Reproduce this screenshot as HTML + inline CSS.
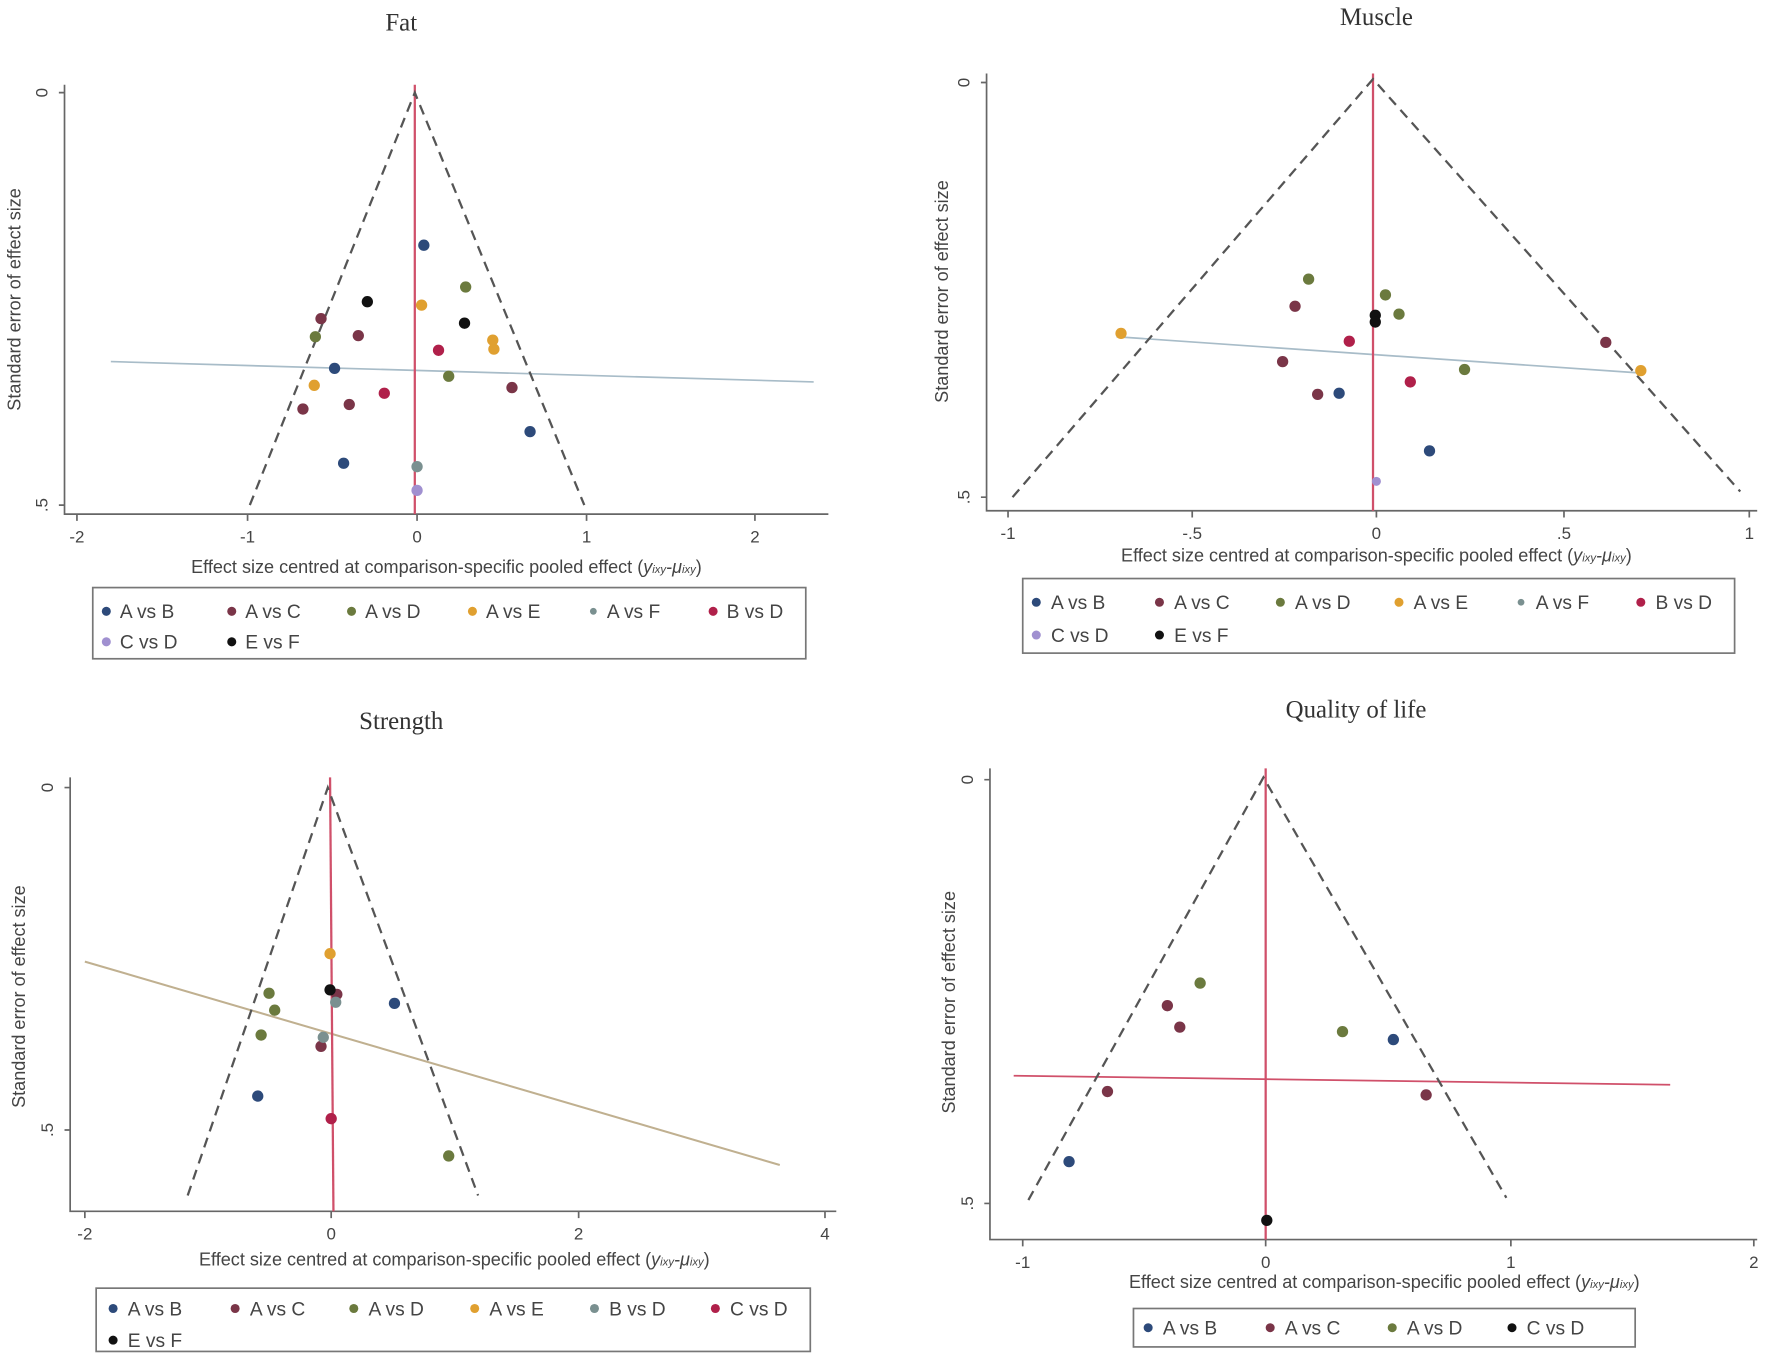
<!DOCTYPE html>
<html><head><meta charset="utf-8"><style>
html,body{margin:0;padding:0;background:#fff;}
svg{display:block;}
.t{font-family:"Liberation Serif",serif;font-size:22px;fill:#333;text-anchor:middle;}
.k{font-family:"Liberation Sans",sans-serif;font-size:15px;fill:#444;}
.l{font-family:"Liberation Sans",sans-serif;font-size:16px;fill:#444;}
.g{font-family:"Liberation Sans",sans-serif;font-size:17px;fill:#444;}
.ax{stroke:#666;stroke-width:1.5;fill:none;}
.fn{stroke:#555;stroke-width:2;stroke-dasharray:9,6;fill:none;}
.pk{stroke:#d0506a;stroke-width:2;}
.box{fill:none;stroke:#777;stroke-width:1.5;}
.AB{fill:#2d4a7a}.AC{fill:#7a3548}.AD{fill:#6b7a3e}.AE{fill:#e0a030}.AF{fill:#7a9090}.BD{fill:#b0204a}.CD{fill:#a090d0}.EF{fill:#111}.BDs{fill:#7a9090}.CDs{fill:#b0204a}
</style></head><body>
<svg width="1772" height="1365" viewBox="0 0 1568 1208" xmlns="http://www.w3.org/2000/svg">
<!-- FAT -->
<text class="t" x="355" y="27">Fat</text>
<path class="ax" d="M57,75 V455 H733"/>
<path class="ax" d="M52,82 H57 M52,447 H57 M68,455 V461 M219,455 V461 M369,455 V461 M519,455 V461 M668,455 V461"/>
<text class="k" transform="translate(42,82) rotate(-90)" text-anchor="middle">0</text>
<text class="k" transform="translate(42,447) rotate(-90)" text-anchor="middle">.5</text>
<text class="k" x="68" y="480" text-anchor="middle">-2</text><text class="k" x="219" y="480" text-anchor="middle">-1</text><text class="k" x="369" y="480" text-anchor="middle">0</text><text class="k" x="519" y="480" text-anchor="middle">1</text><text class="k" x="668" y="480" text-anchor="middle">2</text>
<text class="l" x="395" y="507" text-anchor="middle">Effect size centred at comparison-specific pooled effect (<tspan font-style="italic">y<tspan font-size="10">ixy</tspan>-μ<tspan font-size="10">ixy</tspan></tspan>)</text>
<text class="l" transform="translate(18,265) rotate(-90)" text-anchor="middle">Standard error of effect size</text>
<line x1="98" y1="320" x2="720" y2="338" stroke="#a8bcc8" stroke-width="1.5"/>
<line class="pk" x1="367" y1="75" x2="367" y2="455"/>
<path class="fn" d="M221,447 L367,82 L517,447"/>
<g>
<circle class="AB" cx="375" cy="217" r="5"/><circle class="AB" cx="296" cy="326" r="5"/><circle class="AB" cx="469" cy="382" r="5"/><circle class="AB" cx="304" cy="410" r="5"/>
<circle class="AC" cx="284" cy="282" r="5"/><circle class="AC" cx="317" cy="297" r="5"/><circle class="AC" cx="309" cy="358" r="5"/><circle class="AC" cx="268" cy="362" r="5"/><circle class="AC" cx="453" cy="343" r="5"/>
<circle class="AD" cx="412" cy="254" r="5"/><circle class="AD" cx="279" cy="298" r="5"/><circle class="AD" cx="397" cy="333" r="5"/>
<circle class="AE" cx="373" cy="270" r="5"/><circle class="AE" cx="436" cy="301" r="5"/><circle class="AE" cx="437" cy="309" r="5"/><circle class="AE" cx="278" cy="341" r="5"/>
<circle class="AF" cx="369" cy="413" r="5"/>
<circle class="BD" cx="388" cy="310" r="5"/><circle class="BD" cx="340" cy="348" r="5"/>
<circle class="CD" cx="369" cy="434" r="5"/>
<circle class="EF" cx="325" cy="267" r="5"/><circle class="EF" cx="411" cy="286" r="5"/>
</g>
<rect class="box" x="82" y="520" width="631" height="63"/>
<circle class="AB" cx="94" cy="541" r="4"/><text class="g" x="106" y="547">A vs B</text>
<circle class="AC" cx="205" cy="541" r="4"/><text class="g" x="217" y="547">A vs C</text>
<circle class="AD" cx="311" cy="541" r="4"/><text class="g" x="323" y="547">A vs D</text>
<circle class="AE" cx="418" cy="541" r="4"/><text class="g" x="430" y="547">A vs E</text>
<circle class="AF" cx="525" cy="541" r="3"/><text class="g" x="537" y="547">A vs F</text>
<circle class="BD" cx="631" cy="541" r="4"/><text class="g" x="643" y="547">B vs D</text>
<circle class="CD" cx="94" cy="568" r="4"/><text class="g" x="106" y="574">C vs D</text>
<circle class="EF" cx="205" cy="568" r="4"/><text class="g" x="217" y="574">E vs F</text>

<!-- MUSCLE -->
<text class="t" x="1218" y="22">Muscle</text>
<path class="ax" d="M873,65 V452 H1555"/>
<path class="ax" d="M868,73 H873 M868,440 H873 M892,452 V458 M1055,452 V458 M1218,452 V458 M1384,452 V458 M1548,452 V458"/>
<text class="k" transform="translate(858,73) rotate(-90)" text-anchor="middle">0</text>
<text class="k" transform="translate(858,440) rotate(-90)" text-anchor="middle">.5</text>
<text class="k" x="892" y="477" text-anchor="middle">-1</text><text class="k" x="1055" y="477" text-anchor="middle">-.5</text><text class="k" x="1218" y="477" text-anchor="middle">0</text><text class="k" x="1384" y="477" text-anchor="middle">.5</text><text class="k" x="1548" y="477" text-anchor="middle">1</text>
<text class="l" x="1218" y="497" text-anchor="middle">Effect size centred at comparison-specific pooled effect (<tspan font-style="italic">y<tspan font-size="10">ixy</tspan>-μ<tspan font-size="10">ixy</tspan></tspan>)</text>
<text class="l" transform="translate(839,258) rotate(-90)" text-anchor="middle">Standard error of effect size</text>
<line x1="988" y1="298" x2="1450" y2="330" stroke="#a8bcc8" stroke-width="1.5"/>
<line class="pk" x1="1215" y1="65" x2="1215" y2="452"/>
<path class="fn" d="M896,440 L1215,70 L1540,435"/>
<circle class="AB" cx="1185" cy="348" r="5"/><circle class="AB" cx="1265" cy="399" r="5"/>
<circle class="AC" cx="1146" cy="271" r="5"/><circle class="AC" cx="1135" cy="320" r="5"/><circle class="AC" cx="1166" cy="349" r="5"/><circle class="AC" cx="1421" cy="303" r="5"/>
<circle class="AD" cx="1158" cy="247" r="5"/><circle class="AD" cx="1226" cy="261" r="5"/><circle class="AD" cx="1238" cy="278" r="5"/><circle class="AD" cx="1296" cy="327" r="5"/>
<circle class="AE" cx="992" cy="295" r="5"/><circle class="AE" cx="1452" cy="328" r="5"/>
<circle class="BD" cx="1194" cy="302" r="5"/><circle class="BD" cx="1248" cy="338" r="5"/>
<circle class="CD" cx="1218" cy="426" r="4"/>
<circle class="EF" cx="1217" cy="279" r="5"/><circle class="EF" cx="1217" cy="285" r="5"/>
<rect class="box" x="905" y="512" width="630" height="66"/>
<circle class="AB" cx="917" cy="533" r="4"/><text class="g" x="930" y="539">A vs B</text>
<circle class="AC" cx="1026" cy="533" r="4"/><text class="g" x="1039" y="539">A vs C</text>
<circle class="AD" cx="1133" cy="533" r="4"/><text class="g" x="1146" y="539">A vs D</text>
<circle class="AE" cx="1238" cy="533" r="4"/><text class="g" x="1251" y="539">A vs E</text>
<circle class="AF" cx="1346" cy="533" r="3"/><text class="g" x="1359" y="539">A vs F</text>
<circle class="BD" cx="1452" cy="533" r="4"/><text class="g" x="1465" y="539">B vs D</text>
<circle class="CD" cx="917" cy="562" r="4"/><text class="g" x="930" y="568">C vs D</text>
<circle class="EF" cx="1026" cy="562" r="4"/><text class="g" x="1039" y="568">E vs F</text>

<!-- STRENGTH -->
<text class="t" x="355" y="645">Strength</text>
<path class="ax" d="M62,688 V1072 H740"/>
<path class="ax" d="M57,697 H62 M57,1000 H62 M75,1072 V1078 M293,1072 V1078 M512,1072 V1078 M730,1072 V1078"/>
<text class="k" transform="translate(47,697) rotate(-90)" text-anchor="middle">0</text>
<text class="k" transform="translate(47,1000) rotate(-90)" text-anchor="middle">.5</text>
<text class="k" x="75" y="1097" text-anchor="middle">-2</text><text class="k" x="293" y="1097" text-anchor="middle">0</text><text class="k" x="512" y="1097" text-anchor="middle">2</text><text class="k" x="730" y="1097" text-anchor="middle">4</text>
<text class="l" x="402" y="1120" text-anchor="middle">Effect size centred at comparison-specific pooled effect (<tspan font-style="italic">y<tspan font-size="10">ixy</tspan>-μ<tspan font-size="10">ixy</tspan></tspan>)</text>
<text class="l" transform="translate(22,882) rotate(-90)" text-anchor="middle">Standard error of effect size</text>
<line x1="75" y1="851" x2="690" y2="1031" stroke="#c0b090" stroke-width="1.8"/>
<line class="pk" x1="292" y1="688" x2="295" y2="1072"/>
<path class="fn" d="M166,1058 L290,697 L423,1058"/>
<circle class="AB" cx="349" cy="888" r="5"/><circle class="AB" cx="228" cy="970" r="5"/>
<circle class="AC" cx="298" cy="880" r="5"/><circle class="AC" cx="284" cy="926" r="5"/>
<circle class="AD" cx="238" cy="879" r="5"/><circle class="AD" cx="243" cy="894" r="5"/><circle class="AD" cx="231" cy="916" r="5"/><circle class="AD" cx="397" cy="1023" r="5"/>
<circle class="AE" cx="292" cy="844" r="5"/>
<circle class="BDs" cx="297" cy="887" r="5"/><circle class="BDs" cx="286" cy="918" r="5"/>
<circle class="CDs" cx="293" cy="990" r="5"/>
<circle class="EF" cx="292" cy="876" r="5"/>
<rect class="box" x="85" y="1140" width="632" height="56"/>
<circle class="AB" cx="100" cy="1158" r="4"/><text class="g" x="113" y="1164">A vs B</text>
<circle class="AC" cx="208" cy="1158" r="4"/><text class="g" x="221" y="1164">A vs C</text>
<circle class="AD" cx="313" cy="1158" r="4"/><text class="g" x="326" y="1164">A vs D</text>
<circle class="AE" cx="420" cy="1158" r="4"/><text class="g" x="433" y="1164">A vs E</text>
<circle class="BDs" cx="526" cy="1158" r="4"/><text class="g" x="539" y="1164">B vs D</text>
<circle class="CDs" cx="633" cy="1158" r="4"/><text class="g" x="646" y="1164">C vs D</text>
<circle class="EF" cx="100" cy="1186" r="4"/><text class="g" x="113" y="1192">E vs F</text>

<!-- QUALITY OF LIFE -->
<text class="t" x="1200" y="635">Quality of life</text>
<path class="ax" d="M876,680 V1097 H1555"/>
<path class="ax" d="M871,690 H876 M871,1065 H876 M905,1097 V1103 M1120,1097 V1103 M1337,1097 V1103 M1552,1097 V1103"/>
<text class="k" transform="translate(861,690) rotate(-90)" text-anchor="middle">0</text>
<text class="k" transform="translate(861,1065) rotate(-90)" text-anchor="middle">.5</text>
<text class="k" x="905" y="1122" text-anchor="middle">-1</text><text class="k" x="1120" y="1122" text-anchor="middle">0</text><text class="k" x="1337" y="1122" text-anchor="middle">1</text><text class="k" x="1552" y="1122" text-anchor="middle">2</text>
<text class="l" x="1225" y="1140" text-anchor="middle">Effect size centred at comparison-specific pooled effect (<tspan font-style="italic">y<tspan font-size="10">ixy</tspan>-μ<tspan font-size="10">ixy</tspan></tspan>)</text>
<text class="l" transform="translate(845,887) rotate(-90)" text-anchor="middle">Standard error of effect size</text>
<line x1="897" y1="952" x2="1478" y2="960" stroke="#d0506a" stroke-width="1.5"/>
<line class="pk" x1="1120" y1="680" x2="1120" y2="1097"/>
<path class="fn" d="M910,1062 L1118,688 L1333,1060"/>
<circle class="AB" cx="946" cy="1028" r="5"/><circle class="AB" cx="1233" cy="920" r="5"/>
<circle class="AC" cx="1033" cy="890" r="5"/><circle class="AC" cx="1044" cy="909" r="5"/><circle class="AC" cx="980" cy="966" r="5"/><circle class="AC" cx="1262" cy="969" r="5"/>
<circle class="AD" cx="1062" cy="870" r="5"/><circle class="AD" cx="1188" cy="913" r="5"/>
<circle class="EF" cx="1121" cy="1080" r="5"/>
<rect class="box" x="1003" y="1158" width="444" height="34"/>
<circle class="AB" cx="1016" cy="1175" r="4"/><text class="g" x="1029" y="1181">A vs B</text>
<circle class="AC" cx="1124" cy="1175" r="4"/><text class="g" x="1137" y="1181">A vs C</text>
<circle class="AD" cx="1232" cy="1175" r="4"/><text class="g" x="1245" y="1181">A vs D</text>
<circle class="EF" cx="1338" cy="1175" r="4"/><text class="g" x="1351" y="1181">C vs D</text>
</svg>
</body></html>
